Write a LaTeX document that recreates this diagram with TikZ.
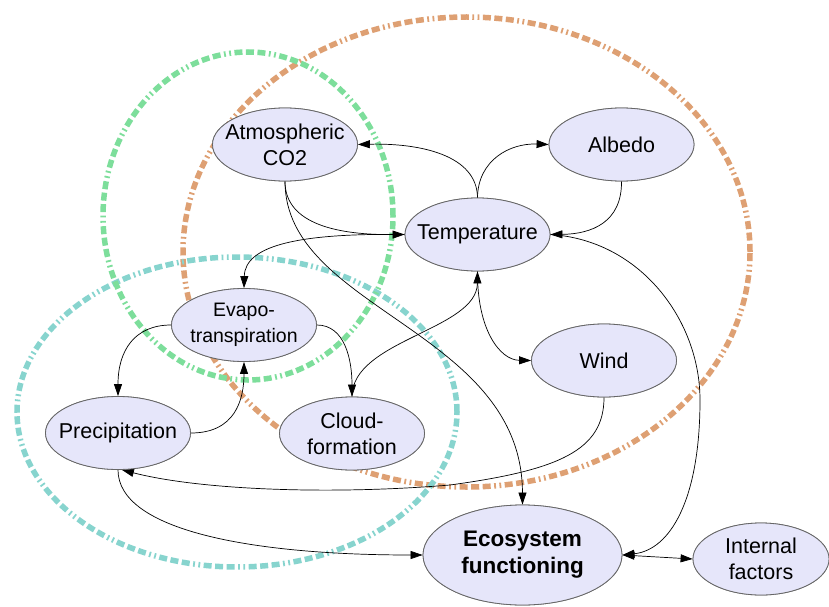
\documentclass[tikz,border=0pt]{standalone}
\usepackage{fontspec}
\setmainfont{Liberation Sans}
\usetikzlibrary{shapes.geometric,arrows.meta}
\definecolor{lav}{RGB}{230,230,250}
\definecolor{ringgreen}{RGB}{125,222,155}
\definecolor{ringorange}{RGB}{222,160,115}
\definecolor{ringteal}{RGB}{135,212,206}
\tikzset{
  nd/.style={ellipse, draw=black!60, fill=lav, line width=0.8pt, minimum width=145pt,
    minimum height=73pt, inner xsep=-60pt, inner ysep=-40pt, align=center, text=black,
    font=\fontsize{21.5}{26}\selectfont},
  ed/.style={-{Triangle[length=12pt,width=8pt]}, line width=0.7pt, black},
  ring/.style={line width=5.5pt, dash pattern=on 8pt off 3.5pt on 8pt off 3.5pt on 8pt off 3.5pt on 1.8pt off 3.5pt on 1.8pt off 3.5pt}
}
\begin{document}
\begin{tikzpicture}[x=1pt,y=-1pt]
\useasboundingbox (0,0) rectangle (829,607);
% rings
\draw[ring, ringorange] (466.5,252) ellipse [x radius=283.5pt, y radius=235pt];
\draw[ring, ringteal] (237,412) ellipse [x radius=220pt, y radius=155pt];
\draw[ring, ringgreen] (248,216) ellipse [x radius=145pt, y radius=164pt];
% node positions
\coordinate (co2) at (285,144.5);
\coordinate (alb) at (621.5,144.5);
\coordinate (tmp) at (477.5,234.5);
\coordinate (eva) at (244,325);
\coordinate (wnd) at (604,360.5);
\coordinate (pre) at (118,433);
\coordinate (cld) at (352,433.5);
\coordinate (eco) at (522.5,555);
\coordinate (int) at (761,559);
% nodes
\node[nd] (nco2) at (co2) {Atmospheric\\CO2};
\node[nd] (nalb) at (alb) {Albedo};
\node[nd] (ntmp) at (tmp) {Temperature};
\node[nd, font=\fontsize{19.5}{26}\selectfont] (neva) at (eva) {Evapo-\\transpiration};
\node[nd] (nwnd) at (wnd) {Wind};
\node[nd] (npre) at (pre) {Precipitation};
\node[nd] (ncld) at (cld) {Cloud-\\formation};
\node[nd, minimum width=199pt, minimum height=100pt, font=\fontsize{22.5}{27}\selectfont\bfseries] (neco) at (eco) {Ecosystem\\functioning};
\node[nd, minimum width=136pt, minimum height=72pt] (nint) at (int) {Internal\\factors};
% edges
\draw[ed] (ntmp.north) .. controls (477,155) and (420,143) .. (nco2.east);
\draw[ed] (ntmp.north) .. controls (478,160) and (510,143) .. (nalb.west);
\draw[ed] (nalb.south) .. controls (622,222) and (592,234) .. (ntmp.east);
\draw[ed] (nco2.south) .. controls (285,225) and (340,235) .. (ntmp.west);
\draw[ed] (ntmp.west) .. controls (300,233) and (245,245) .. (neva.north);
\draw[ed] (nco2.south) .. controls (285,310) and (522,330) .. (neco.north);
\draw[ed] (neva.west) .. controls (135,325) and (118,350) .. (npre.north);
\draw[ed] (npre.east) .. controls (235,433) and (244,400) .. (neva.south);
\draw[ed] (neva.east) .. controls (345,325) and (352,360) .. (ncld.north);
\draw[ed] (ncld.north) .. controls (352,340) and (477,330) .. (ntmp.south);
\draw[ed] (ntmp.south) .. controls (477,330) and (500,360) .. (nwnd.west);
\draw[ed] (nwnd.south) .. controls (604,450) and (560,470) .. (450,485) .. controls (330,495) and (200,490) .. (npre.-84);
\draw[ed] (npre.south) .. controls (118,530) and (250,555) .. (neco.west);
\draw[ed] (ntmp.east) .. controls (640,240) and (700,320) .. (700,400) .. controls (700,500) and (670,550) .. (neco.east);
\draw[ed, {Triangle[length=12pt,width=8pt]}-{Triangle[length=12pt,width=8pt]}] (neco.east) -- (nint.west);
% redraw nodes on top of edges
\node[nd] at (co2) {Atmospheric\\CO2};
\node[nd] at (alb) {Albedo};
\node[nd] at (tmp) {Temperature};
\node[nd, font=\fontsize{19.5}{26}\selectfont] at (eva) {Evapo-\\transpiration};
\node[nd] at (wnd) {Wind};
\node[nd] at (pre) {Precipitation};
\node[nd] at (cld) {Cloud-\\formation};
\node[nd, minimum width=199pt, minimum height=100pt, font=\fontsize{22.5}{27}\selectfont\bfseries] at (eco) {Ecosystem\\functioning};
\node[nd, minimum width=136pt, minimum height=72pt] at (int) {Internal\\factors};
\end{tikzpicture}
\end{document}
